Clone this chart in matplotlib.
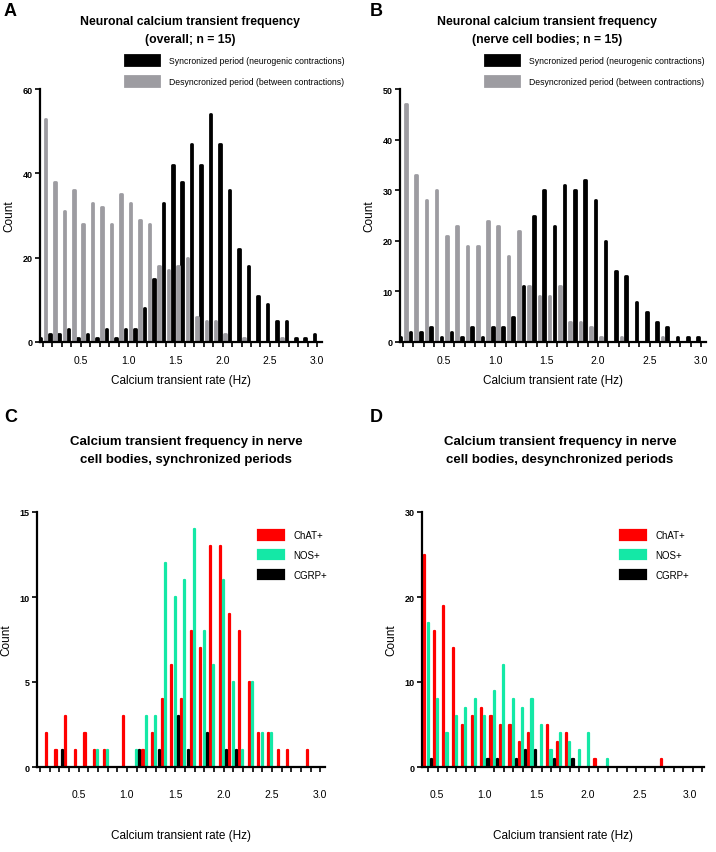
import numpy as np
import matplotlib.pyplot as plt

plt.rcParams['font.family'] = ['Liberation Sans', 'DejaVu Sans']

# histogram bins (Hz)
bins = np.round(np.arange(0.1, 3.01, 0.1), 1)
rate_labels = ["0.5", "1.0", "1.5", "2.0", "2.5", "3.0"]

# A: overall
a_sync = [1, 2, 2, 3, 1, 2, 1, 3, 1, 3, 3, 8, 15, 33, 42, 38, 47, 42, 54, 47,
          36, 22, 18, 11, 9, 5, 5, 1, 1, 2]
a_desync = [53, 38, 31, 36, 28, 33, 32, 28, 35, 33, 29, 28, 18, 17, 18, 20, 6, 5, 5, 2,
            0, 1, 0, 0, 0, 1, 0, 0, 0, 0]

# B: nerve cell bodies
b_sync = [1, 2, 2, 3, 1, 2, 1, 3, 1, 3, 3, 5, 11, 25, 30, 23, 31, 30, 32, 28,
          20, 14, 13, 8, 6, 4, 3, 1, 1, 1]
b_desync = [47, 33, 28, 30, 21, 23, 19, 19, 24, 23, 17, 22, 11, 9, 9, 11, 4, 4, 3, 1,
            0, 1, 0, 0, 0, 1, 0, 0, 0, 0]

# C: synchronized periods by neuron class
c_chat = [0, 2, 1, 3, 1, 2, 1, 1, 0, 3, 0, 1, 2, 4, 6, 4, 8, 7, 13, 13,
          9, 8, 5, 2, 2, 1, 1, 0, 1, 0]
c_nos = [0, 0, 0, 0, 0, 0, 1, 1, 0, 0, 1, 3, 3, 12, 10, 11, 14, 8, 6, 11,
         5, 1, 5, 2, 2, 0, 0, 0, 0, 0]
c_cgrp = [0, 0, 1, 0, 0, 0, 0, 0, 0, 0, 1, 0, 1, 0, 3, 1, 0, 2, 0, 1,
          1, 0, 0, 0, 0, 0, 0, 0, 0, 0]

# D: desynchronized periods by neuron class
d_chat = [25, 16, 19, 14, 5, 6, 7, 6, 5, 5, 3, 4, 0, 5, 3, 4, 0, 0, 1, 0,
          0, 0, 0, 0, 0, 1, 0, 0, 0, 0]
d_nos = [17, 8, 4, 6, 7, 8, 6, 9, 12, 8, 7, 8, 5, 2, 4, 3, 2, 4, 0, 1,
         0, 0, 0, 0, 0, 0, 0, 0, 0, 0]
d_cgrp = [1, 0, 0, 0, 0, 0, 1, 1, 0, 1, 2, 2, 0, 1, 0, 1, 0, 0, 0, 0,
          0, 0, 0, 0, 0, 0, 0, 0, 0, 0]

# where the original panel D prints its rate labels (they sit off the bin grid)
d_label_pos = [0.19, 0.70, 1.25, 1.79, 2.34, 2.87]

GRAY = "#9d9ca1"
RED = "#ff0000"
GREEN = "#14e8a6"

W, H = 716, 853
fig = plt.figure(figsize=(W / 100, H / 100), dpi=100)


def px_axes(left, right, top, bottom):
    return fig.add_axes([left / W, 1 - bottom / H, (right - left) / W, (bottom - top) / H])


def style(ax, ymax, ystep, xlim, tpad, lpad, label_pos=None):
    ax.set_xlim(*xlim)
    ax.set_ylim(0, ymax)
    for s in ["top", "right"]:
        ax.spines[s].set_visible(False)
    for s in ["left", "bottom"]:
        ax.spines[s].set_linewidth(1.6)
        ax.spines[s].set_zorder(5)
    ax.set_yticks(np.arange(0, ymax + 1, ystep))
    ax.set_yticklabels([str(v) for v in np.arange(0, ymax + 1, ystep)],
                       fontsize=6.5, fontweight="bold")
    ax.tick_params(axis="y", width=1.2, length=3.5, pad=2)
    if label_pos is None:
        ax.set_xticks(bins)
        ax.set_xticklabels(["%.1f" % b if round(b * 10) % 5 == 0 else "" for b in bins], fontsize=7.5)
        ax.tick_params(axis="x", width=1.2, length=3.5, pad=tpad)
    else:
        ax.set_xticks(bins, minor=True)
        ax.set_xticks(label_pos)
        ax.set_xticklabels(rate_labels, fontsize=7.5)
        ax.tick_params(axis="x", which="minor", width=1.2, length=3.5)
        ax.tick_params(axis="x", which="major", length=0, pad=tpad + 3.5)
    ax.set_xlabel("Calcium transient rate (Hz)", fontsize=8.5, labelpad=lpad)
    ax.set_ylabel("Count", fontsize=8.5, labelpad=5)


def legend_at(ax, x, y, fs, hl, hh, ls, htp):
    ax.legend(loc="upper left", bbox_to_anchor=(x / W, 1 - y / H), bbox_transform=fig.transFigure,
              frameon=False, fontsize=fs, handlelength=hl, handleheight=hh,
              labelspacing=ls, handletextpad=htp, borderpad=0, borderaxespad=0)


def rbar(ax, x, h, width, color, lw, label):
    # rounded-end bars: thin rectangle with a thick round-joined outline
    x = np.asarray(x)
    h = np.asarray(h)
    keep = h > 0
    ax.bar(x[keep], h[keep], width=width, color=color, edgecolor=color,
           linewidth=lw, joinstyle="round", label=label)


def two_series(ax, sync, desync, lx):
    rbar(ax, bins - 0.027, sync, 0.016, "black", 2.0,
         "Syncronized period (neurogenic contractions)")
    rbar(ax, bins + 0.027, desync, 0.016, GRAY, 2.0,
         "Desyncronized period (between contractions)")
    legend_at(ax, lx, 56, 6.2, 4.0, 1.4, 1.3, 1.1)


def three_series(ax, chat, nos, cgrp, lx):
    rbar(ax, bins - 0.034, chat, 0.012, RED, 1.6, "ChAT+")
    rbar(ax, bins, nos, 0.012, GREEN, 1.6, "NOS+")
    rbar(ax, bins + 0.034, cgrp, 0.012, "black", 1.6, "CGRP+")
    legend_at(ax, lx, 531, 7, 2.7, 1.15, 1.0, 0.95)


def title(x, y, text, fs):
    fig.text(x / W, 1 - y / H, text, ha="center", va="center", fontsize=fs,
             fontweight="bold", linespacing=1.6)


axA = px_axes(40, 322, 90, 343)
two_series(axA, a_sync, a_desync, 125)
style(axA, 60, 20, (0.07, 3.05), 6, 6)
title(190, 31, "Neuronal calcium transient frequency\n(overall; n = 15)", 8.8)

axB = px_axes(400, 706, 90, 343)
two_series(axB, b_sync, b_desync, 485)
style(axB, 50, 10, (0.07, 3.05), 6, 6)
title(547, 31, "Neuronal calcium transient frequency\n(nerve cell bodies; n = 15)", 8.8)

axC = px_axes(37, 325, 513, 768)
three_series(axC, c_chat, c_nos, c_cgrp, 258)
style(axC, 15, 5, (0.07, 3.05), 12, 22)
title(186, 451, "Calcium transient frequency in nerve\ncell bodies, synchronized periods", 9.5)

axD = px_axes(422, 704, 513, 768)
three_series(axD, d_chat, d_nos, d_cgrp, 620)
style(axD, 30, 10, (0.035, 3.02), 12, 22, label_pos=d_label_pos)
title(560, 451, "Calcium transient frequency in nerve\ncell bodies, desynchronized periods", 9.5)

for letter, x, y in [("A", 4, 12), ("B", 370, 12), ("C", 4, 418), ("D", 370, 418)]:
    fig.text(x / W, 1 - y / H, letter, fontsize=13, fontweight="bold", va="center", ha="left")

fig.savefig("out.png", dpi=100)
